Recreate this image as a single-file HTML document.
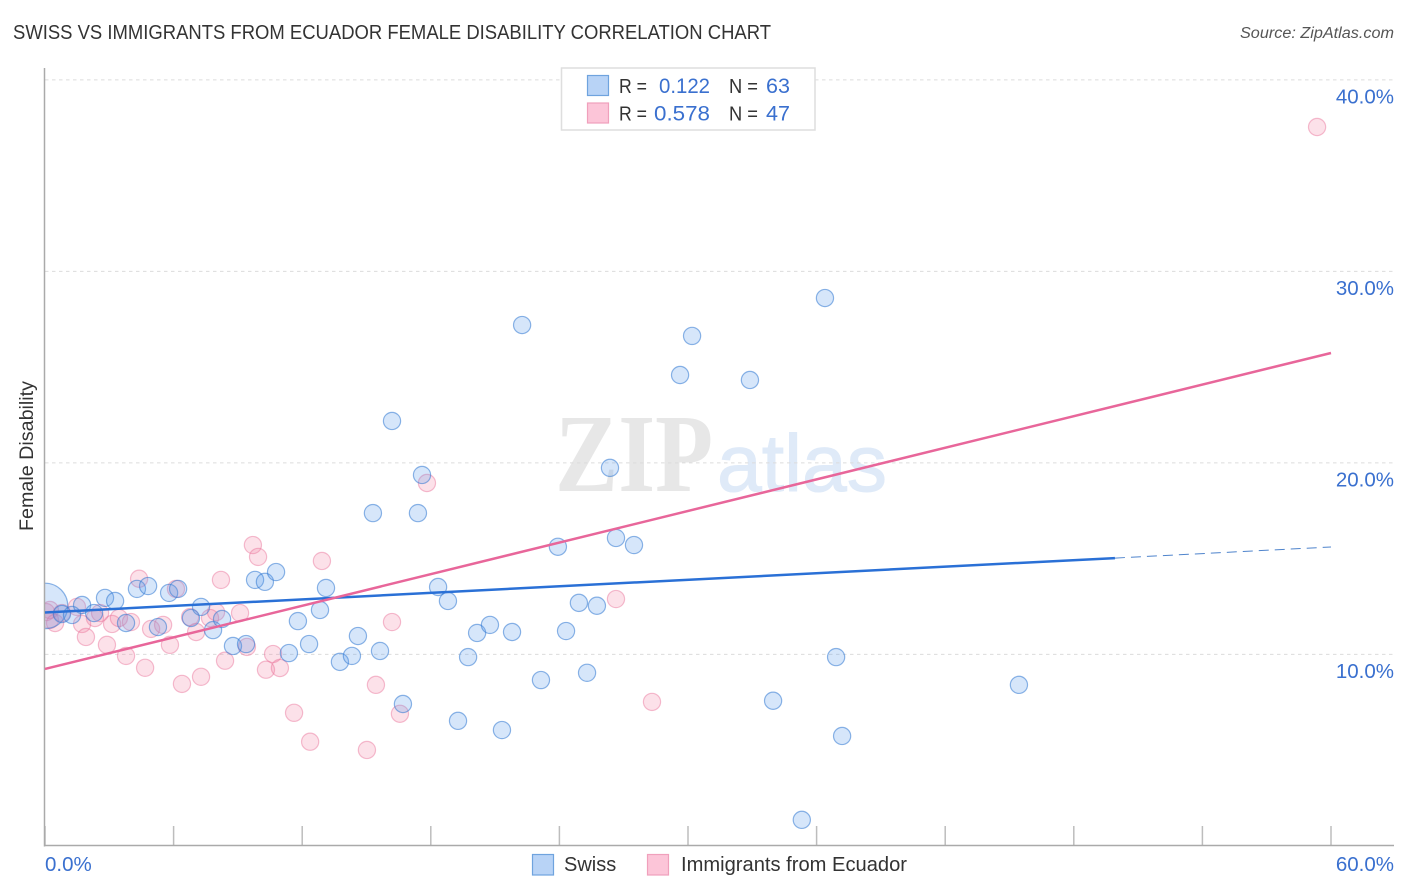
<!DOCTYPE html>
<html lang="en">
<head>
<meta charset="utf-8">
<title>Swiss vs Immigrants from Ecuador Female Disability Correlation Chart</title>
<style>
html,body{margin:0;padding:0;background:#fff;width:1406px;height:892px;overflow:hidden}
svg{display:block}
text{font-family:"Liberation Sans",sans-serif}
</style>
</head>
<body>
<svg id="chart" xmlns="http://www.w3.org/2000/svg" width="1406" height="892" viewBox="0 0 1406 892">
  <rect x="0" y="0" width="1406" height="892" fill="#fff"/>
  <text x="13" y="39" font-size="20" fill="#333" textLength="758" lengthAdjust="spacingAndGlyphs">SWISS VS IMMIGRANTS FROM ECUADOR FEMALE DISABILITY CORRELATION CHART</text>
  <text x="1394" y="38" font-size="15.5" font-style="italic" fill="#555" text-anchor="end" textLength="154" lengthAdjust="spacingAndGlyphs">Source: ZipAtlas.com</text>
  <g>
    <text x="555" y="491" font-size="111" font-weight="bold" fill="#e7e7e7" style="font-family:'Liberation Serif',serif" textLength="158" lengthAdjust="spacingAndGlyphs">ZIP</text>
    <text x="717" y="491" font-size="81" fill="#dfeaf8" stroke="#dfeaf8" stroke-width="1" style="font-family:'Liberation Sans',sans-serif" textLength="170" lengthAdjust="spacingAndGlyphs">atlas</text>
  </g>
  <g id="grid"></g>
  <g id="axes"></g>
  <g id="pink-points"></g>
  <g id="blue-points"></g>
  <rect x="0" y="60" width="44" height="790" fill="#fff"/>
  <g id="front-axis"></g>
  <g id="trends"></g>
  <g id="y-labels"></g>
  <g id="x-labels"></g>
  <text transform="translate(33,456) rotate(-90)" font-size="19" fill="#333" text-anchor="middle" textLength="150" lengthAdjust="spacingAndGlyphs">Female Disability</text>

  <g>
    <rect x="561.5" y="68" width="253.5" height="62" fill="#fff" stroke="#dedede" stroke-width="1.5"/>
    <rect x="587.5" y="75.5" width="21" height="20" fill="#b8d3f6" stroke="#6fa3de" stroke-width="1.2"/>
    <rect x="587.5" y="103" width="21" height="20" fill="#fcc5d8" stroke="#f0a0bc" stroke-width="1.2"/>
    <text x="619" y="93" font-size="20" fill="#333" textLength="28" lengthAdjust="spacingAndGlyphs">R =</text>
    <text x="659" y="93" font-size="21.5" fill="#3a70cf" textLength="51" lengthAdjust="spacingAndGlyphs">0.122</text>
    <text x="729" y="93" font-size="20" fill="#333" textLength="29" lengthAdjust="spacingAndGlyphs">N =</text>
    <text x="766" y="93" font-size="21.5" fill="#3a70cf" textLength="24" lengthAdjust="spacingAndGlyphs">63</text>
    <text x="619" y="120.5" font-size="20" fill="#333" textLength="28" lengthAdjust="spacingAndGlyphs">R =</text>
    <text x="654" y="120.5" font-size="21.5" fill="#3a70cf" textLength="56" lengthAdjust="spacingAndGlyphs">0.578</text>
    <text x="729" y="120.5" font-size="20" fill="#333" textLength="29" lengthAdjust="spacingAndGlyphs">N =</text>
    <text x="766" y="120.5" font-size="21.5" fill="#3a70cf" textLength="24" lengthAdjust="spacingAndGlyphs">47</text>
  </g>

  <g>
    <g>
      <rect x="532.5" y="854.5" width="21" height="20.5" fill="#b8d3f6" stroke="#6fa3de" stroke-width="1.2"/>
      <text x="564" y="871" font-size="20" fill="#333">Swiss</text>
    </g>
    <g>
      <rect x="647.5" y="854.5" width="21" height="20.5" fill="#fcc5d8" stroke="#f0a0bc" stroke-width="1.2"/>
      <text x="681" y="871" font-size="20" fill="#333" textLength="226" lengthAdjust="spacingAndGlyphs">Immigrants from Ecuador</text>
    </g>
  </g>
</svg>
<script>
const yTicks = [10, 20, 30, 40];
const yTickLabels = ["10.0%", "20.0%", "30.0%", "40.0%"];
const xTicks = [0, 6, 12, 18, 24, 30, 36, 42, 48, 54, 60];
const xEndLabels = ["0.0%", "60.0%"];

const swissX = [0,0.79,1.26,1.73,2.29,2.80,3.27,3.78,4.29,4.81,5.27,5.79,6.21,6.81,7.28,7.84,8.26,8.77,9.38,9.80,10.26,10.78,11.38,11.80,12.32,12.83,13.11,13.76,14.32,14.60,15.63,15.30,16.19,17.40,17.59,16.70,18.34,18.80,19.27,19.74,20.16,20.76,21.32,21.79,22.26,23.14,23.93,24.31,24.91,25.29,25.75,26.36,26.64,27.48,29.63,30.19,32.89,33.97,35.31,36.39,36.91,37.19,45.44];
const swissY = [12.53,12.11,12.06,12.58,12.16,12.95,12.79,11.64,13.42,13.57,11.43,13.21,13.42,11.90,12.48,11.27,11.85,10.44,10.54,13.89,13.79,14.30,10.07,11.74,10.54,12.32,13.47,9.61,9.92,10.96,10.18,17.38,22.19,17.38,19.37,7.41,13.52,12.79,6.53,9.86,11.12,11.54,6.05,11.17,27.20,8.66,15.62,11.22,12.69,9.04,12.54,19.74,16.08,15.71,24.59,26.63,24.33,7.58,1.36,28.61,9.86,5.74,8.41];
const swissWeightFirst = 7;

const ecuadorX = [0.05,0.23,0.23,0.47,0.79,1.49,1.73,1.91,2.33,2.57,2.89,3.13,3.45,3.78,4.01,4.39,4.67,4.95,5.51,5.83,6.11,6.39,6.77,7.05,7.28,7.70,7.98,8.21,8.40,9.10,9.42,9.70,9.94,10.31,10.64,10.96,11.62,12.37,12.92,15.02,15.44,16.19,16.56,17.82,26.64,28.32,59.35];
const ecuadorY = [12.21,12.32,11.80,11.64,12.16,12.48,11.59,10.91,11.90,12.16,10.50,11.59,11.90,9.92,11.69,13.95,9.30,11.33,11.54,10.50,13.42,8.46,11.95,11.17,8.83,11.90,12.21,13.89,9.67,12.16,10.39,15.71,15.09,9.20,10.02,9.29,6.95,5.44,14.88,5.01,8.41,11.69,6.90,18.95,12.89,7.52,37.54];

const swissTrendX = [0, 49.92];
const swissTrendY = [12.19, 15.03];
const swissProjectedX = [49.92, 60];
const swissProjectedY = [15.03, 15.61];
const ecuadorTrendX = [0, 60];
const ecuadorTrendY = [9.24, 25.74];

const NS = 'http://www.w3.org/2000/svg';
function sx(v) { return 45 + v * (1331 - 45) / 60; }
function sy(v) { return 654.4 - (v - 10) * 19.15; }
function make(tag, attrs, parent, txt) {
  const el = document.createElementNS(NS, tag);
  for (const k in attrs) el.setAttribute(k, attrs[k]);
  if (txt !== undefined) el.textContent = txt;
  document.getElementById(parent).appendChild(el);
  return el;
}

yTicks.forEach(function (t, i) {
  const g = make('line', {x1: 45, x2: 1394, y1: sy(t), y2: sy(t), stroke: '#dcdcdc', 'stroke-width': 1, 'stroke-dasharray': '3.5 3.5'}, 'grid');
  
  
  const l = make('text', {x: 1394, y: sy(t) + 23.5, 'font-size': 20.5, fill: '#3a70cf', 'text-anchor': 'end'}, 'y-labels', yTickLabels[i]);
  
  
});

xTicks.forEach(function (t) {
  const k = make('line', {x1: sx(t), x2: sx(t), y1: 826, y2: 846, stroke: '#bdbdbd', 'stroke-width': 1.5}, 'axes');
  
  
});

const xAxis = make('line', {x1: 44, x2: 1394, y1: 845.5, y2: 845.5, stroke: '#aaa', 'stroke-width': 1.5}, 'axes');


const yAxis = make('line', {x1: 44.5, x2: 44.5, y1: 68, y2: 846.5, stroke: '#aaa', 'stroke-width': 1.5}, 'front-axis');



const xLabelLeft = make('text', {x: 45, y: 871, 'font-size': 20.5, fill: '#3a70cf'}, 'x-labels', xEndLabels[0]);


const xLabelRight = make('text', {x: 1394, y: 871, 'font-size': 20.5, fill: '#3a70cf', 'text-anchor': 'end'}, 'x-labels', xEndLabels[1]);



ecuadorX.forEach(function (x, i) {
  const c = make('circle', {cx: sx(x), cy: sy(ecuadorY[i]), r: 8.6, fill: 'rgba(244,130,165,0.24)', stroke: 'rgba(232,110,150,0.45)', 'stroke-width': 1.2}, 'pink-points');
  
  
});

swissX.forEach(function (x, i) {
  const w = i === 0 ? swissWeightFirst : 1;
  const c = make('circle', {cx: sx(x), cy: sy(swissY[i]), r: 8.6 * Math.sqrt(w), fill: 'rgba(90,155,235,0.25)', stroke: 'rgba(50,120,210,0.55)', 'stroke-width': 1.2}, 'blue-points');
  
  
});

const t1 = make('line', {x1: sx(swissTrendX[0]), y1: sy(swissTrendY[0]), x2: sx(swissTrendX[1]), y2: sy(swissTrendY[1]), stroke: '#2a70d6', 'stroke-width': 2.5}, 'trends');


const t2 = make('line', {x1: sx(swissProjectedX[0]), y1: sy(swissProjectedY[0]), x2: sx(swissProjectedX[1]), y2: sy(swissProjectedY[1]), stroke: '#4f84cc', 'stroke-width': 1, 'stroke-dasharray': '10 6'}, 'trends');


const t3 = make('line', {x1: sx(ecuadorTrendX[0]), y1: sy(ecuadorTrendY[0]), x2: sx(ecuadorTrendX[1]), y2: sy(ecuadorTrendY[1]), stroke: '#e8669a', 'stroke-width': 2.5}, 'trends');


</script>
</body>
</html>
